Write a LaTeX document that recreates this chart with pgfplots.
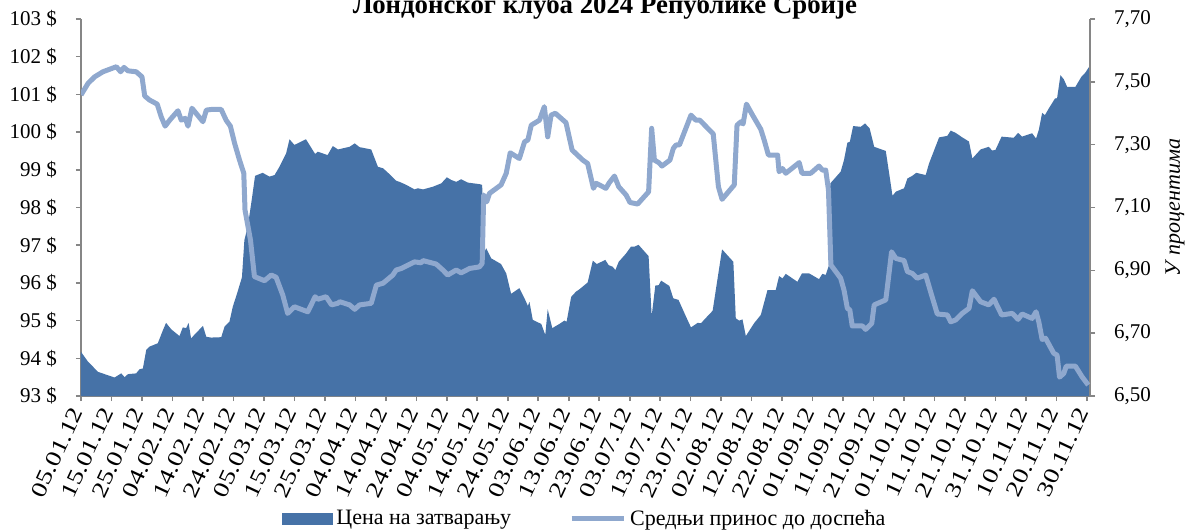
\documentclass[border=0pt]{standalone}
\usepackage{pgfplots}
\pgfplotsset{compat=1.18}
\usepackage{pgfplotstable}
\usepackage{fontspec}
\setmainfont{Liberation Serif}
\definecolor{areablue}{RGB}{70,114,167}
\definecolor{lineblue}{RGB}{143,168,206}
\definecolor{axgray}{RGB}{134,134,134}

\pgfplotstableread{
day price
0 94.17
2.3 93.91
5.6 93.64
11.0 93.49
13.2 93.60
14.3 93.50
15.4 93.58
18.1 93.60
19.2 93.71
20.3 93.73
21.4 94.22
22.5 94.31
25.2 94.40
26.9 94.75
27.9 94.94
29.6 94.77
32.3 94.59
33.4 94.82
34.5 94.80
35.3 94.94
36.1 94.53
40.0 94.86
41.1 94.57
42.7 94.55
46.0 94.56
47.1 94.84
48.7 94.97
49.8 95.37
51.2 95.72
52.8 96.15
53.6 97.14
54.7 97.49
56.0 98.20
57.1 98.84
59.6 98.92
61.8 98.82
63.5 98.86
65.1 99.08
67.3 99.44
68.4 99.81
70.0 99.66
73.8 99.81
76.8 99.42
77.7 99.48
80.9 99.39
82.6 99.63
84.3 99.54
88.1 99.61
89.8 99.70
91.4 99.60
95.2 99.54
97.4 99.08
99.1 99.04
101.8 98.84
103.4 98.71
104.5 98.68
106.7 98.60
109.4 98.48
110.5 98.51
112.2 98.48
115.4 98.55
118.2 98.64
120.0 98.80
121.5 98.73
123.1 98.68
124.7 98.75
126.9 98.66
130.7 98.62
131.6 98.60
132.2 96.78
132.9 96.92
134.6 96.65
137.8 96.50
139.5 96.25
141.1 95.71
143.8 95.86
145.5 95.59
146.6 95.39
147.1 95.50
148.2 95.02
151.0 94.91
152.3 94.62
153.1 95.30
154.6 94.80
156.9 94.91
158.6 95.00
159.3 94.97
160.8 95.63
162.4 95.77
163.5 95.83
166.2 96.01
167.9 96.59
169.2 96.50
172.0 96.61
173.1 96.47
174.4 96.43
175.3 96.34
176.4 96.56
178.8 96.78
180.4 96.96
181.5 96.96
182.9 97.01
186.2 96.71
187.2 95.12
188.4 95.93
189.5 95.94
190.3 96.06
193.0 95.92
194.3 95.59
196.0 95.55
198.5 95.10
200.1 94.82
202.3 94.94
203.4 94.93
204.5 95.03
207.2 95.26
210.3 96.89
214.0 96.56
214.8 95.06
215.9 95.00
217.0 95.03
218.1 94.59
220.8 94.93
223.0 95.15
225.2 95.81
227.9 95.81
229.0 96.18
230.1 96.12
231.2 96.24
235.0 96.03
236.5 96.25
238.9 96.25
242.1 96.10
243.2 96.24
244.3 96.21
245.3 96.45
245.8 98.64
249.2 98.95
250.3 99.26
251.4 99.72
252.2 99.74
253.3 100.16
255.8 100.14
257.2 100.23
258.7 100.10
260.2 99.61
264.0 99.50
265.1 98.91
266.2 98.31
267.3 98.42
270.0 98.51
271.1 98.77
272.7 98.84
274.0 98.92
277.1 98.86
278.2 99.17
281.5 99.86
284.2 99.90
285.3 100.04
286.9 99.98
289.1 99.86
291.3 99.75
292.4 99.30
295.1 99.54
297.8 99.61
298.9 99.51
300.0 99.53
302.0 99.88
306.0 99.85
307.4 99.98
308.7 99.88
312.0 99.97
313.3 99.83
314.2 100.06
315.3 100.51
316.2 100.45
317.5 100.63
319.5 100.89
320.2 100.90
321.3 101.51
322.4 101.40
323.5 101.20
326.2 101.20
328.2 101.47
329.5 101.58
330.6 101.72
}\pricedata

\pgfplotstableread{
day yield
0 7.458
2.3 7.495
4.5 7.516
7.2 7.532
9.4 7.540
11.6 7.548
13.0 7.532
14.1 7.546
15.4 7.535
18.1 7.532
20.0 7.516
20.9 7.455
22.5 7.442
25.0 7.429
26.3 7.389
27.6 7.359
29.1 7.378
31.8 7.408
32.9 7.378
34.2 7.384
35.1 7.359
36.4 7.416
40.0 7.373
41.1 7.410
42.7 7.412
46.0 7.412
47.6 7.378
49.0 7.359
50.4 7.304
52.0 7.251
53.4 7.209
53.8 7.092
55.6 6.996
56.9 6.880
60.2 6.867
62.4 6.885
64.0 6.878
66.2 6.821
67.8 6.763
70.0 6.784
74.4 6.768
76.8 6.816
77.7 6.808
80.4 6.816
82.2 6.790
84.2 6.795
84.9 6.800
88.1 6.790
89.8 6.776
91.4 6.790
95.2 6.795
96.9 6.853
99.1 6.859
102.3 6.885
103.4 6.901
105.1 6.906
109.4 6.927
111.6 6.924
112.2 6.931
116.5 6.920
118.7 6.901
120.3 6.885
123.1 6.901
124.7 6.892
127.5 6.906
130.7 6.911
131.6 6.922
132.1 7.140
133.1 7.118
134.0 7.145
137.8 7.172
139.5 7.209
140.8 7.274
143.8 7.256
145.5 7.309
146.6 7.315
147.7 7.362
150.4 7.378
152.0 7.421
153.1 7.325
154.2 7.394
155.6 7.400
159.1 7.370
161.1 7.283
164.6 7.251
166.2 7.240
168.1 7.161
169.0 7.177
172.2 7.161
173.3 7.179
175.0 7.200
176.4 7.166
178.8 7.140
180.1 7.116
182.6 7.111
186.2 7.150
187.2 7.352
188.1 7.251
189.5 7.243
190.6 7.232
193.2 7.251
194.3 7.288
195.2 7.299
196.3 7.299
200.1 7.394
201.7 7.378
203.0 7.378
207.4 7.334
209.1 7.166
210.3 7.126
214.3 7.172
215.2 7.362
216.5 7.373
217.2 7.366
218.3 7.429
220.3 7.394
223.0 7.349
224.1 7.315
225.5 7.267
228.5 7.267
229.0 7.214
230.1 7.224
231.2 7.209
235.6 7.243
236.5 7.209
239.4 7.209
242.1 7.232
243.2 7.219
244.3 7.219
245.2 7.156
246.0 6.917
249.2 6.875
250.3 6.837
251.4 6.779
252.2 6.774
253.0 6.723
256.3 6.723
257.4 6.712
259.4 6.731
260.2 6.790
264.0 6.806
264.8 6.869
265.9 6.959
267.3 6.938
270.0 6.931
271.1 6.896
272.7 6.890
274.3 6.875
277.1 6.885
278.7 6.832
280.9 6.761
284.2 6.758
285.3 6.736
286.9 6.742
289.1 6.763
291.3 6.779
292.4 6.835
295.1 6.800
297.8 6.790
299.5 6.808
302.0 6.758
305.5 6.763
307.4 6.744
308.7 6.761
312.0 6.747
313.3 6.768
314.2 6.736
315.3 6.680
316.4 6.684
319.1 6.636
320.2 6.630
321.0 6.560
322.4 6.572
323.2 6.595
326.2 6.595
328.4 6.561
330.4 6.535
}\yielddata

\begin{document}
\begin{tikzpicture}
\pgfplotsset{
  base/.style={
    scale only axis, width=504.5pt, height=188.5pt,
    xmin=0, xmax=331,
    axis line style={axgray, line width=0.8pt},
    tick style={axgray, line width=0.8pt},
    major tick length=2.5pt,
    tick align=outside,
    tick label style={font=\fontsize{10.5}{12}\selectfont, text=black},
  }
}
\begin{axis}[base, name=ax,
  axis y line*=left, axis x line*=bottom,
  ymin=93, ymax=103, ytick={93,94,95,96,97,98,99,100,101,102,103},
  yticklabels={93 \$,94 \$,95 \$,96 \$,97 \$,98 \$,99 \$,100 \$,101 \$,102 \$,103 \$},
  yticklabel style={xshift=-6pt},
  xtick={0,10,...,330},
  xticklabels={05.01.12,15.01.12,25.01.12,04.02.12,14.02.12,24.02.12,05.03.12,15.03.12,25.03.12,04.04.12,14.04.12,24.04.12,04.05.12,14.05.12,24.05.12,03.06.12,13.06.12,23.06.12,03.07.12,13.07.12,23.07.12,02.08.12,12.08.12,22.08.12,01.09.12,11.09.12,21.09.12,01.10.12,11.10.12,21.10.12,31.10.12,10.11.12,20.11.12,30.11.12},
  xticklabel style={rotate=65, xscale=1.25, anchor=east, font=\fontsize{11}{12}\selectfont},
]
\addplot[fill=areablue, draw=none] table[x=day,y=price]{\pricedata} \closedcycle;
\end{axis}
\begin{axis}[base,
  axis y line*=right, axis x line=none,
  ymin=6.5, ymax=7.7, ytick={6.5,6.7,6.9,7.1,7.3,7.5,7.7},
  yticklabels={{6,50},{6,70},{6,90},{7,10},{7,30},{7,50},{7,70}},
  yticklabel style={xshift=6pt},
  ylabel={У процентима},
  ylabel style={font=\fontsize{11}{13}\selectfont\itshape, at={(rel axis cs:1,0.5)}, anchor=center, yshift=-42.5pt},
  legend columns=2,
  legend style={draw=none, fill=none, at={(0.5,-0.326)}, anchor=center,
    font=\fontsize{11}{13}\selectfont,
    /tikz/every even column/.append style={column sep=27pt}},
]
\addlegendimage{legend image code/.code={\fill[areablue] (0pt,-2.75pt) rectangle (25pt,2.75pt);}}
\addlegendentry{Цена на затварању}
\addplot[lineblue, line width=2.5pt, line join=round,
  legend image code/.code={\draw[lineblue, line width=2.5pt] (0pt,0pt) -- (26pt,0pt);}]
  table[x=day,y=yield]{\yielddata};
\addlegendentry{Средњи принос до доспећа}
\end{axis}
\node[anchor=base, font=\fontsize{13.4}{15}\selectfont\bfseries] at ([shift={(262pt,191.25pt)}]ax.south west) {Лондонског клуба 2024 Републике Србије};
\pgfresetboundingbox
\path ([shift={(-40.5pt,-66.5pt)}]ax.south west) rectangle ([shift={(48pt,9.5pt)}]ax.north east);
\end{tikzpicture}
\end{document}
